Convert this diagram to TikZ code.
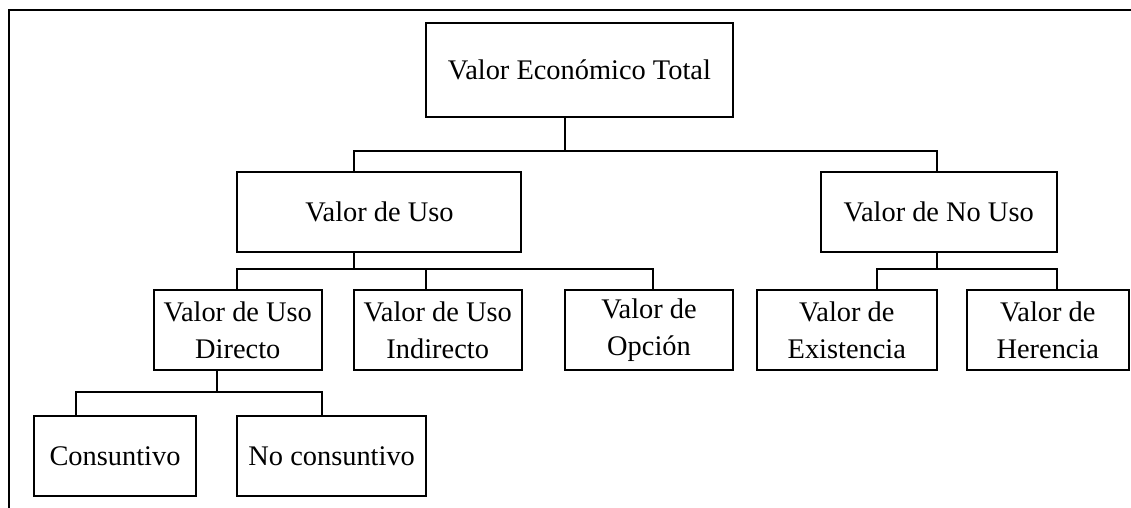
\documentclass[tikz,border=0pt]{standalone}
\usepackage{fontspec}
\setmainfont{Liberation Serif}
\begin{document}
\begin{tikzpicture}[x=1pt,y=-1pt,
  box/.style={draw,line width=2pt,inner sep=0pt,align=center,
    font=\fontsize{28.4}{37}\selectfont,minimum height=80pt},
  conn/.style={line width=2pt},
  frame/.style={line width=2pt}]
\useasboundingbox (0,0) rectangle (1131,507);
% frame
\coordinate (fb) at (8.5,508);
\coordinate (fc) at (8.5,10);
\coordinate (fr) at (1132,10);
\draw[frame] (fb) -- (fc) -- (fr);
% nodes
\node[box,minimum width=307pt,minimum height=94pt] (top) at (579.4,69.7) {Valor Económico Total};
\node[box,minimum width=284pt] (uso) at (379.4,211.8) {Valor de Uso};
\node[box,minimum width=236pt] (nouso) at (938.7,212) {Valor de No Uso};
\node[box,minimum width=168pt] (dir) at (237.8,330) {Valor de Uso\\Directo};
\node[box,minimum width=168pt] (ind) at (437.7,330) {Valor de Uso\\Indirecto};
\node[box,minimum width=168pt] (opc) at (649,330) {Valor de\\Opción};
\node[box,minimum width=180pt] (exi) at (846.8,330) {Valor de\\Existencia};
\node[box,minimum width=162pt] (her) at (1047.8,330) {Valor de\\Herencia};
\node[box,minimum width=162pt] (con) at (115,456) {Consuntivo};
\node[box,minimum width=189pt] (nocon) at (331.7,456) {No consuntivo};
% bus coordinates
\coordinate (b1) at (565,151);
\coordinate (b1l) at (354,151);
\coordinate (b1r) at (937,151);
\coordinate (b2) at (354,269);
\coordinate (b2l) at (237.3,269);
\coordinate (b2m) at (426,269);
\coordinate (b2r) at (653,269);
\coordinate (b3) at (937,269);
\coordinate (b3l) at (877.3,269);
\coordinate (b3r) at (1056.7,269);
\coordinate (b4) at (216.7,391.7);
\coordinate (b4l) at (76,391.7);
\coordinate (b4r) at (321.7,391.7);
% connectors
\draw[conn] (top.south -| b1) -- (b1);
\draw[conn] (uso.north -| b1l) -- (b1l) -- (b1r) -- (nouso.north -| b1r);
\draw[conn] (uso.south -| b2) -- (b2);
\draw[conn] (dir.north -| b2l) -- (b2l) -- (b2r) -- (opc.north -| b2r);
\draw[conn] (b2m) -- (ind.north -| b2m);
\draw[conn] (nouso.south -| b3) -- (b3);
\draw[conn] (exi.north -| b3l) -- (b3l) -- (b3r) -- (her.north -| b3r);
\draw[conn] (dir.south -| b4) -- (b4);
\draw[conn] (con.north -| b4l) -- (b4l) -- (b4r) -- (nocon.north -| b4r);
\end{tikzpicture}
\end{document}
